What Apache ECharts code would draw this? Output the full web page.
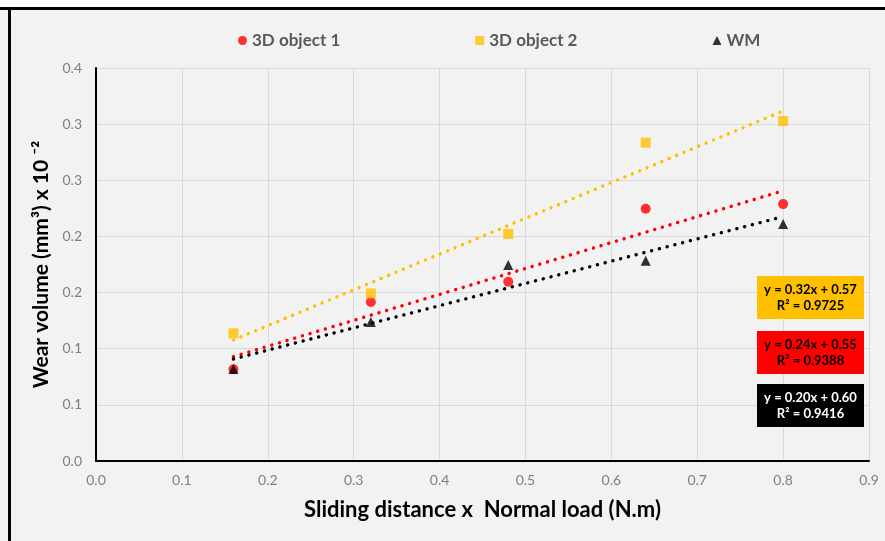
<!DOCTYPE html>
<html>
<head>
<meta charset="utf-8">
<script src="https://cdn.jsdelivr.net/npm/echarts@6/dist/echarts.min.js"></script>
<style>
  html, body { margin: 0; padding: 0; background: #ffffff; }
  #wear { position: absolute; left: 0; top: 0; width: 885px; height: 541px; }
</style>
</head>
<body>
<div id="wear"></div>
<script>
// values
const xLoad = [0.16, 0.32, 0.48, 0.64, 0.8]
const object1 = [0.0817, 0.1416, 0.1597, 0.2247, 0.2288]
const object2 = [0.1137, 0.1493, 0.2022, 0.2835, 0.3028]
const wm = [0.082, 0.1238, 0.1745, 0.1784, 0.211]

// dotted trendline ends (x = 0.16 and x = 0.8)
const trendX = [0.16, 0.8]
const trend1 = [0.0929, 0.2407]
const trend2 = [0.1078, 0.3117]
const trend3 = [0.0908, 0.2176]

const yTickLabels = ['0.0', '0.1', '0.1', '0.2', '0.2', '0.3', '0.3', '0.4']
const xTickLabels = ['0.0', '0.1', '0.2', '0.3', '0.4', '0.5', '0.6', '0.7', '0.8', '0.9']

const eqText = [
  ['y = 0.32x + 0.57', 'R\u00b2 = 0.9725'],
  ['y = 0.24x + 0.55', 'R\u00b2 = 0.9388'],
  ['y = 0.20x + 0.60', 'R\u00b2 = 0.9416']
]

const pair = (xs, ys) => xs.map((x, i) => [x, ys[i]])

const RED = '#ff0000'
const ORANGE = '#ffc000'
const BLACK = '#000000'
const FONT = 'Lato, "Open Sans", sans-serif'

function trend(name, ys, color) {
  return {
    name: name,
    type: 'line',
    data: pair(trendX, ys),
    symbol: 'none',
    silent: true,
    z: 1,
    lineStyle: { color: color, width: 3.4, type: [0.1, 7.9], cap: 'round' }
  }
}

function eqBox(top, fill, txtColor, lines) {
  const txt = (t, y) => ({
    type: 'text', x: 53.5, y: y, z: 101,
    style: {
      text: t, align: 'center', verticalAlign: 'middle', fill: txtColor,
      fontSize: 13, fontWeight: 'bold', fontFamily: FONT
    }
  })
  return {
    type: 'group',
    left: 757,
    top: top,
    z: 100,
    children: [
      { type: 'rect', z: 100, shape: { x: 0, y: 0, width: 107, height: 43 }, style: { fill: fill } },
      txt(lines[0], 14),
      txt(lines[1], 30)
    ]
  }
}

const myChart = echarts.init(document.getElementById('wear'))

const option = {
  backgroundColor: '#f2f2f2',
  textStyle: { fontFamily: FONT },
  animation: false,
  legend: {
    data: [
      { name: '3D object 1', icon: 'circle' },
      { name: '3D object 2', icon: 'rect' },
      { name: 'WM', icon: 'triangle' }
    ],
    left: 233,
    top: 27,
    itemWidth: 9,
    itemHeight: 9,
    itemGap: 135,
    textStyle: { color: '#595959', fontSize: 17, fontWeight: 'bold', fontFamily: FONT }
  },
  grid: { left: 96, right: 16, top: 68, bottom: 80 },
  xAxis: {
    type: 'value',
    min: 0, max: 0.9, interval: 0.1,
    name: 'Sliding distance x  Normal load (N.m)',
    nameLocation: 'middle',
    nameGap: 38,
    nameTextStyle: { color: '#000', fontSize: 22, fontWeight: 'bold', fontFamily: FONT },
    axisLine: { lineStyle: { color: '#000', width: 2 } },
    axisTick: { show: false },
    axisLabel: {
      color: '#7f7f7f', fontSize: 14, margin: 12,
      formatter: v => xTickLabels[Math.round(v * 10)]
    },
    splitLine: { show: true, lineStyle: { color: '#d9d9d9', width: 1 } }
  },
  yAxis: {
    type: 'value',
    min: 0, max: 0.35, interval: 0.05,
    name: 'Wear volume (mm\u00b3) x 10 \u207b\u00b2',
    nameLocation: 'middle',
    nameGap: 41,
    nameTextStyle: { color: '#000', fontSize: 21, fontWeight: 'bold', fontFamily: FONT },
    axisLine: { show: true, lineStyle: { color: '#000', width: 2 } },
    axisTick: { show: false },
    axisLabel: {
      color: '#7f7f7f', fontSize: 14, margin: 14,
      formatter: v => yTickLabels[Math.round(v / 0.05)]
    },
    splitLine: { show: true, lineStyle: { color: '#d9d9d9', width: 1 } }
  },
  series: [
    trend('t1', trend1, RED),
    trend('t2', trend2, ORANGE),
    trend('t3', trend3, BLACK),
    {
      name: '3D object 1', type: 'scatter', data: pair(xLoad, object1),
      symbol: 'circle', symbolSize: 10, itemStyle: { color: RED }, z: 3
    },
    {
      name: '3D object 2', type: 'scatter', data: pair(xLoad, object2),
      symbol: 'rect', symbolSize: 10, itemStyle: { color: ORANGE }, z: 3
    },
    {
      name: 'WM', type: 'scatter', data: pair(xLoad, wm),
      symbol: 'triangle', symbolSize: 10, itemStyle: { color: BLACK }, z: 3
    }
  ],
  graphic: [
    { type: 'rect', left: 0, top: 0, z: 100, shape: { width: 885, height: 7 }, style: { fill: '#ffffff' }, silent: true },
    { type: 'rect', left: 0, top: 7, z: 100, shape: { width: 885, height: 3 }, style: { fill: '#000000' }, silent: true },
    { type: 'rect', left: 8, top: 7, z: 100, shape: { width: 3, height: 534 }, style: { fill: '#000000' }, silent: true },
    eqBox(276, ORANGE, '#000000', eqText[0]),
    eqBox(331, RED, '#000000', eqText[1]),
    eqBox(384, BLACK, '#ffffff', eqText[2])
  ]
}

myChart.setOption(option)
</script>
</body>
</html>
